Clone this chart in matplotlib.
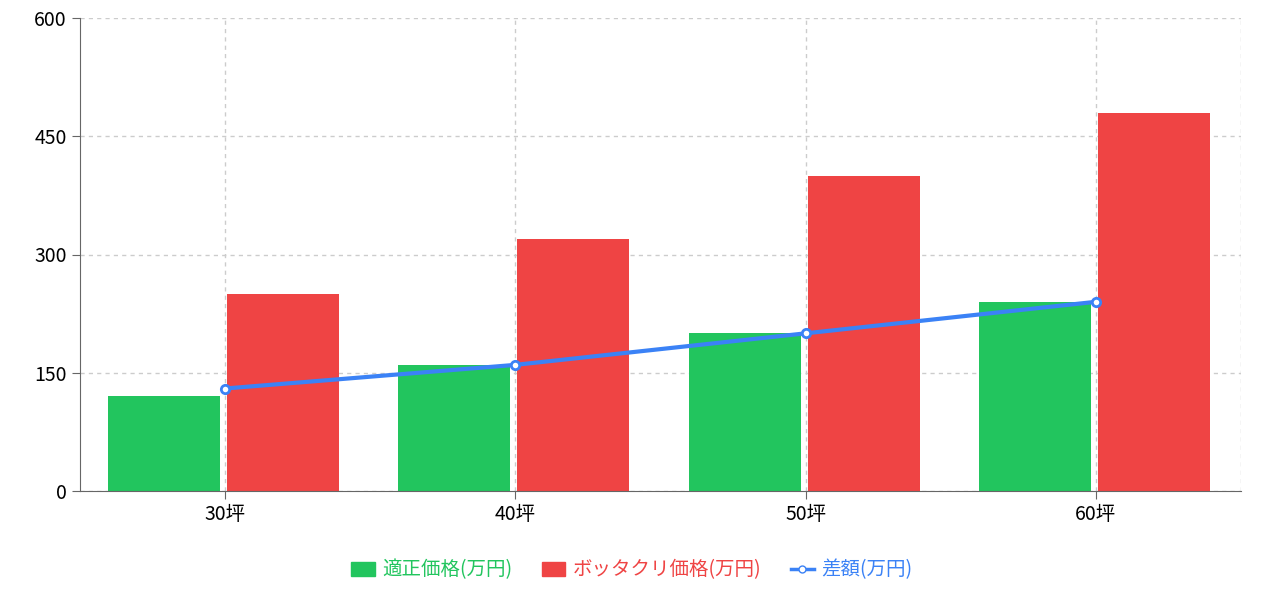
import matplotlib
matplotlib.use("Agg")
import matplotlib.pyplot as plt
from matplotlib.lines import Line2D
from matplotlib.patches import Patch

plt.rcParams["font.family"] = "Noto Sans CJK JP"

categories = ["30坪", "40坪", "50坪", "60坪"]
fair = [120, 160, 200, 240]
rip = [250, 320, 400, 480]
diff = [130, 160, 200, 240]
yticks = [0, 150, 300, 450, 600]

GREEN = "#22c55e"; RED = "#ef4444"; BLUE = "#3b82f6"
fig = plt.figure(figsize=(12.64, 5.95), dpi=100)
ax = fig.add_axes([80/1264, 1-491/595, (1241-80)/1264, (491-18)/595])
x = list(range(len(categories)))
w = 0.386
ax.bar([i-0.21 for i in x], fair, width=w, color=GREEN, zorder=2)
ax.bar([i+0.20 for i in x], rip, width=w, color=RED, zorder=2)
ax.plot(x, diff, color=BLUE, lw=3, marker="o", ms=6, mfc="white", mec=BLUE, mew=2, zorder=3)
ax.set_xlim(-0.5, 3.5); ax.set_ylim(0, 600)
ax.set_yticks(yticks); ax.set_xticks(x); ax.set_xticklabels(categories)
ax.grid(True, ls=(0, (3, 3)), color="#cccccc", lw=1, zorder=0)
ax.axvline(3.5, ls=(0, (3, 3)), color="#cccccc", lw=1)
for s in ["top", "right"]:
    ax.spines[s].set_visible(False)
for s in ["left", "bottom"]:
    ax.spines[s].set_color("#666666")
ax.tick_params(colors="#666666", labelcolor="black", labelsize=14, length=6)
handles = [Patch(color=GREEN), Patch(color=RED),
           Line2D([], [], color=BLUE, lw=2.5, marker="o", ms=5, mfc="white", mec=BLUE)]
leg = fig.legend(handles, ["適正価格(万円)", "ボッタクリ価格(万円)", "差額(万円)"], loc="center",
                 bbox_to_anchor=(0.5, 1-570/595), ncol=3, frameon=False, fontsize=14,
                 handlelength=1.2, columnspacing=1.5, handletextpad=0.4)
for t, c in zip(leg.get_texts(), [GREEN, RED, BLUE]):
    t.set_color(c)
fig.savefig("out.png", dpi=100)
